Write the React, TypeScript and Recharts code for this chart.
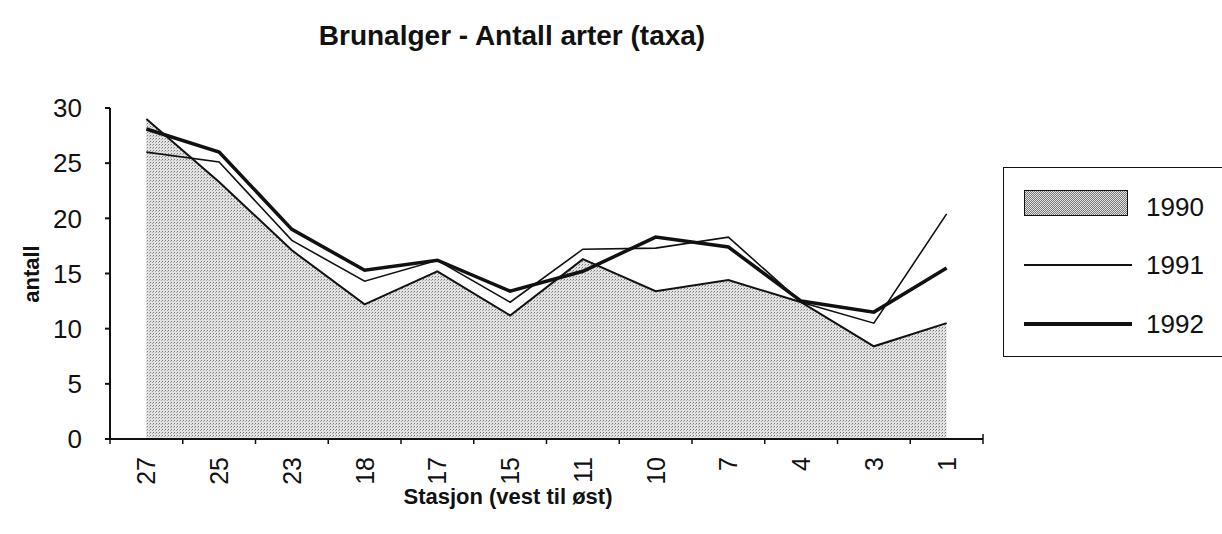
import { ComposedChart, Area, Line, XAxis, YAxis } from "recharts";

const stations = ["27", "25", "23", "18", "17", "15", "11", "10", "7", "4", "3", "1"];
const y1990 = [29, 23.3, 17.1, 12.2, 15.2, 11.2, 16.3, 13.4, 14.4, 12.4, 8.4, 10.5];
const y1991 = [26, 25.1, 18.0, 14.3, 16.2, 12.4, 17.2, 17.3, 18.3, 12.4, 10.5, 20.4];
const y1992 = [28.1, 26.0, 19.0, 15.3, 16.2, 13.4, 15.2, 18.3, 17.4, 12.5, 11.5, 15.5];
const yTicks = [0, 5, 10, 15, 20, 25, 30];

const data = stations.map((s, i) => ({
  station: s,
  a1990: y1990[i],
  a1991: y1991[i],
  a1992: y1992[i],
}));

const FONT = "'Liberation Sans', Arial, sans-serif";
const TICK_SIZE = 6;
const TICK_MARGIN = 12;

// tick marks sit on the band edges, labels in the band centre
const StationTick = (props: any) => {
  const { x, y, payload, index, visibleTicksCount } = props;
  const axisY = y - TICK_SIZE - TICK_MARGIN;
  const half = payload.offset || 0;
  const isLast = index === visibleTicksCount - 1;
  return (
    <g>
      <line x1={x - half} x2={x - half} y1={axisY} y2={axisY + 5} stroke="#111" strokeWidth={1.5} />
      {isLast && (
        <line x1={x + half} x2={x + half} y1={axisY - 5} y2={axisY + 5} stroke="#111" strokeWidth={1.5} />
      )}
      <text
        transform={`translate(${x},${y}) rotate(-90)`}
        textAnchor="end"
        dominantBaseline="central"
        fontFamily={FONT}
        fontSize={25}
        fill="#111"
      >
        {payload.value}
      </text>
    </g>
  );
};

const App = () => {
  return (
    <div
      style={{
        position: "absolute",
        left: 0,
        top: 0,
        width: 1222,
        height: 534,
        background: "#fff",
        fontFamily: FONT,
        color: "#111",
      }}
    >
      <ComposedChart
        width={1222}
        height={534}
        data={data}
        margin={{ top: 108, right: 239, left: 0, bottom: 25 }}
      >
        <defs>
          <pattern id="stipple" width="3" height="3" patternUnits="userSpaceOnUse">
            <rect width="3" height="3" fill="#e2e2e2" />
            <rect width="1" height="1" fill="#7a7a7a" />
            <rect x="2" y="1" width="1" height="1" fill="#a8a8a8" />
          </pattern>
        </defs>
        <XAxis
          dataKey="station"
          scale="band"
          stroke="#111"
          strokeWidth={2}
          tickLine={false}
          tickSize={TICK_SIZE}
          tickMargin={TICK_MARGIN}
          tick={<StationTick />}
          interval={0}
          height={70}
        />
        <YAxis
          domain={[0, 30]}
          ticks={yTicks}
          width={110}
          tickSize={5}
          tickMargin={23}
          stroke="#111"
          strokeWidth={2}
          tick={{ fill: "#111", fontSize: 26, fontFamily: FONT }}
        />
        <Area
          type="linear"
          dataKey="a1990"
          stroke="#111"
          strokeWidth={2}
          fill="url(#stipple)"
          fillOpacity={1}
          isAnimationActive={false}
        />
        <Line
          type="linear"
          dataKey="a1991"
          stroke="#111"
          strokeWidth={1.6}
          dot={false}
          isAnimationActive={false}
        />
        <Line
          type="linear"
          dataKey="a1992"
          stroke="#111"
          strokeWidth={3.5}
          dot={false}
          isAnimationActive={false}
        />
      </ComposedChart>

      <div
        style={{
          position: "absolute",
          left: 212,
          top: 20,
          width: 600,
          textAlign: "center",
          fontSize: 28,
          fontWeight: "bold",
        }}
      >
        Brunalger - Antall arter (taxa)
      </div>

      <div
        style={{
          position: "absolute",
          left: 32,
          top: 274,
          transform: "translate(-50%, -50%) rotate(-90deg)",
          fontSize: 22,
          fontWeight: "bold",
          whiteSpace: "nowrap",
        }}
      >
        antall
      </div>

      <div
        style={{
          position: "absolute",
          left: 308,
          top: 484,
          width: 400,
          textAlign: "center",
          fontSize: 22,
          fontWeight: "bold",
        }}
      >
        Stasjon (vest til øst)
      </div>

      <div
        style={{
          position: "absolute",
          left: 1003,
          top: 167,
          width: 240,
          height: 190,
          border: "1.5px solid #111",
          boxSizing: "border-box",
        }}
      >
        <div
          style={{
            position: "absolute",
            left: 20,
            top: 22,
            width: 104,
            height: 26,
            border: "1.5px solid #111",
            boxSizing: "border-box",
            background:
              "repeating-conic-gradient(#7a7a7a 0 25%, #e2e2e2 0 50%) 0 0 / 2px 2px",
          }}
        />
        <div style={{ position: "absolute", left: 142, top: 24, fontSize: 26, lineHeight: "30px" }}>
          1990
        </div>
        <div
          style={{
            position: "absolute",
            left: 20,
            top: 96,
            width: 108,
            height: 2,
            background: "#111",
          }}
        />
        <div style={{ position: "absolute", left: 142, top: 82, fontSize: 26, lineHeight: "30px" }}>
          1991
        </div>
        <div
          style={{
            position: "absolute",
            left: 20,
            top: 154,
            width: 108,
            height: 4,
            background: "#111",
          }}
        />
        <div style={{ position: "absolute", left: 142, top: 141, fontSize: 26, lineHeight: "30px" }}>
          1992
        </div>
      </div>
    </div>
  );
};

export default App;
